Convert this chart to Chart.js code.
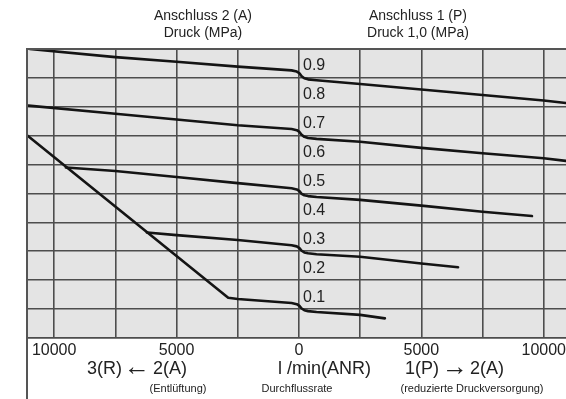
<!DOCTYPE html>
<html>
<head>
<meta charset="utf-8">
<script src="https://cdn.jsdelivr.net/npm/chart.js@4/dist/chart.umd.min.js"></script>
<style>
  html, body { margin: 0; padding: 0; background: #fff; }
  #wrap { width: 566px; height: 399px; }
</style>
</head>
<body>
<div id="wrap"><canvas id="chart" width="566" height="399"></canvas></div>
<script>
// flow rate l/min (ANR): negative = 3(R) <- 2(A) exhaust, positive = 1(P) -> 2(A) supply
// port 2 (A) pressure in MPa, one curve per set pressure
const flow09 = [-11000, -7500, -5000, -2500, -300, -90, 20, 110, 220, 370, 720, 2500, 5000, 7500, 10000, 10900];
const press09 = [1.0, 0.972, 0.956, 0.939, 0.926, 0.922, 0.916, 0.906, 0.899, 0.895, 0.892, 0.879, 0.860, 0.841, 0.822, 0.813];

const flow07 = [-11050, -7500, -5000, -2500, -300, -90, 20, 110, 220, 370, 720, 2500, 5000, 7500, 10000, 10900];
const press07 = [0.804, 0.776, 0.756, 0.736, 0.723, 0.719, 0.713, 0.703, 0.696, 0.692, 0.689, 0.679, 0.658, 0.639, 0.622, 0.613];

const flow05 = [-9520, -7500, -5000, -2500, -300, -90, 20, 110, 220, 370, 720, 2500, 5000, 7500, 9520];
const press05 = [0.590, 0.578, 0.557, 0.536, 0.518, 0.514, 0.508, 0.499, 0.494, 0.491, 0.488, 0.478, 0.458, 0.437, 0.422];

const flow03 = [-6210, -5000, -2500, -300, -90, 20, 110, 220, 370, 720, 2500, 5000, 6500];
const press03 = [0.365, 0.356, 0.339, 0.321, 0.317, 0.311, 0.302, 0.296, 0.293, 0.290, 0.281, 0.258, 0.245];

const flow01 = [-11070, -2890, -2500, -300, -90, 20, 110, 220, 370, 720, 2500, 3510];
const press01 = [0.699, 0.139, 0.135, 0.121, 0.117, 0.111, 0.102, 0.096, 0.093, 0.090, 0.080, 0.068];

const flowMin = -11110;
const flowMax = 10910;
const flowTicks = [-10000, -7500, -5000, -2500, 0, 2500, 5000, 7500, 10000];
const flowLabelStep = 5000;
const pressureStep = 0.1;

const FONT = "'Liberation Sans', Arial, sans-serif";

const curves = [
    [flow09, press09],
    [flow07, press07],
    [flow05, press05],
    [flow03, press03],
    [flow01, press01]
];

const datasets = curves.map(([fx, py]) => ({
    data: fx.map((x, i) => ({ x, y: py[i] })),
    borderColor: '#141414',
    borderWidth: 2.6,
    borderJoinStyle: 'round',
    borderCapStyle: 'round',
    pointRadius: 0,
    tension: 0,
    fill: false
}));

const frame = {
    id: 'frame',
    beforeDraw(chart) {
        const { ctx, chartArea: a } = chart;
        ctx.save();
        ctx.fillStyle = '#e4e4e4';
        ctx.fillRect(a.left, a.top, a.right - a.left, a.bottom - a.top);
        ctx.restore();
    },
    afterDraw(chart) {
        const { ctx, chartArea: a, height } = chart;
        ctx.save();
        ctx.strokeStyle = '#555';
        ctx.lineWidth = 2;
        ctx.beginPath();
        ctx.moveTo(a.left, height);
        ctx.lineTo(a.left, a.top);
        ctx.lineTo(a.right, a.top);
        ctx.stroke();

        ctx.fillStyle = '#222';
        ctx.textBaseline = 'middle';
        ctx.textAlign = 'center';

        // column headings
        ctx.font = '14px ' + FONT;
        ctx.fillText('Anschluss 2 (A)', 203, 16);
        ctx.fillText('Druck (MPa)', 203, 33);
        ctx.fillText('Anschluss 1 (P)', 418, 16);
        ctx.fillText('Druck 1,0 (MPa)', 418, 33);

        // flow direction
        ctx.textAlign = 'left';
        ctx.font = '18px ' + FONT;
        ctx.fillText('3(R)', 87, 369);
        ctx.fillText('2(A)', 153, 369);
        ctx.fillText('1(P)', 405, 369);
        ctx.fillText('2(A)', 470, 369);
        ctx.fillText('l /min(ANR)', 278, 369);
        ctx.font = 'bold 26px ' + FONT;
        ctx.fillText('\u2190', 124, 368);
        ctx.fillText('\u2192', 442, 368);

        ctx.textAlign = 'center';
        ctx.font = '11px ' + FONT;
        ctx.fillText('(Entl\u00fcftung)', 178, 389);
        ctx.fillText('Durchflussrate', 297, 389);
        ctx.fillText('(reduzierte Druckversorgung)', 472, 389);
        ctx.restore();
    }
};

new Chart(document.getElementById('chart'), {
    type: 'line',
    data: { datasets },
    plugins: [frame],
    options: {
        responsive: false,
        animation: false,
        events: [],
        layout: { padding: { left: 27, top: 49, right: 0, bottom: 0 } },
        plugins: {
            legend: { display: false },
            tooltip: { enabled: false }
        },
        scales: {
            x: {
                type: 'linear',
                position: 'bottom',
                min: flowMin,
                max: flowMax,
                grid: { color: '#4d4d4d', lineWidth: 1.6, drawTicks: false },
                border: { display: true, color: '#4d4d4d', width: 1.6 },
                ticks: {
                    autoSkip: false,
                    maxRotation: 0,
                    padding: 3,
                    color: '#222',
                    font: { family: FONT, size: 16 },
                    callback: v => (v % flowLabelStep === 0 ? String(Math.abs(v)) : '')
                },
                afterBuildTicks: s => { s.ticks = flowTicks.map(v => ({ value: v })); },
                afterFit: s => { s.height = 61; s.paddingLeft = 0; s.paddingRight = 0; }
            },
            y: {
                type: 'linear',
                position: 'left',
                min: 0,
                max: 1,
                grid: { color: '#4d4d4d', lineWidth: 1.6, drawTicks: false },
                border: { display: true, color: '#555', width: 2 },
                ticks: {
                    stepSize: pressureStep,
                    autoSkip: false,
                    mirror: true,
                    padding: 276,
                    labelOffset: -12,
                    color: '#222',
                    font: { family: FONT, size: 16 },
                    callback: v => (v > 0.05 && v < 0.95 ? v.toFixed(1) : '')
                },
                afterFit: s => { s.width = 0; s.paddingTop = 0; s.paddingBottom = 0; }
            }
        }
    }
});
</script>
</body>
</html>
